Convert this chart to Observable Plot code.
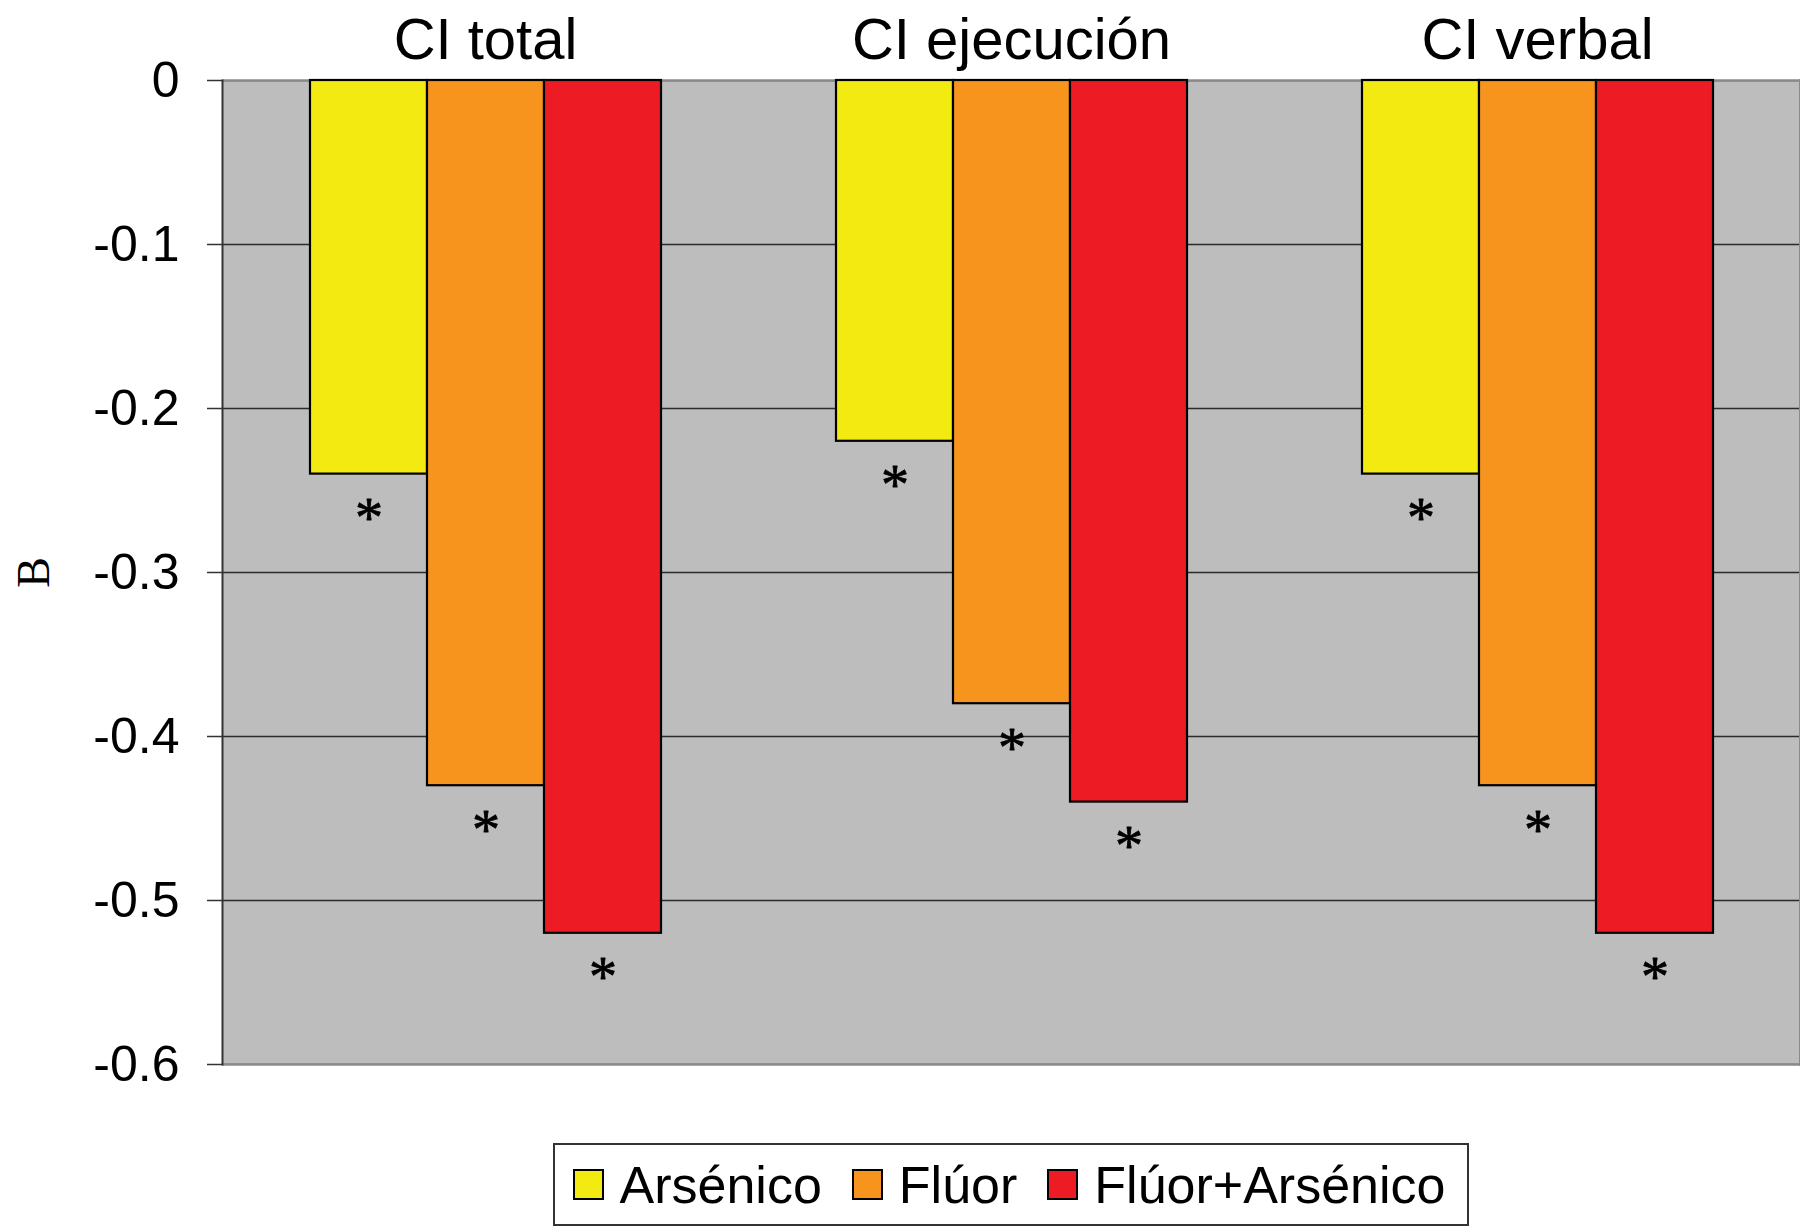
<!DOCTYPE html>
<html>
<head>
<meta charset="utf-8">
<script src="https://cdn.jsdelivr.net/npm/d3@7"></script>
<script src="https://cdn.jsdelivr.net/npm/@observablehq/plot@0.6"></script>
<style>
  html, body { margin: 0; padding: 0; background: #fff; }
  #chart svg { display: block; }
  #legendWrap { display: flex; justify-content: center; padding-left: 222px; margin-top: 43px; }
  #legend { display: flex; align-items: center; border: 2px solid #333; height: 79px; padding: 0 22px 0 18px;
            font-family: "Liberation Sans", Arial, sans-serif; font-size: 52px; color: #000; }
  .item { display: flex; align-items: center; margin-right: 30px; }
  .item:last-child { margin-right: 0; }
  .sw { width: 27px; height: 27px; border: 2px solid #000; margin-right: 16px; }
</style>
</head>
<body>
<div id="chart"></div>
<div id="legendWrap"><div id="legend"></div></div>
<script>
const groups = ["CI total", "CI ejecución", "CI verbal"];
const series = ["Arsénico", "Flúor", "Flúor+Arsénico"];
const arsenico = [-0.24, -0.22, -0.24];
const fluor = [-0.43, -0.38, -0.43];
const fluorArsenico = [-0.52, -0.44, -0.52];
const marks = ["*", "*", "*"];
const colors = ["#F2EA10", "#F7941E", "#ED1C24"];
const yTicks = [0, -0.1, -0.2, -0.3, -0.4, -0.5, -0.6];
const yLabel = "B";

const valuesBySeries = [arsenico, fluor, fluorArsenico];
const data = [];
groups.forEach((g, gi) => {
  series.forEach((s, si) => {
    data.push({group: g, series: s, value: valuesBySeries[si][gi], mark: marks[gi]});
  });
});

const chart = Plot.plot({
  width: 1800,
  height: 1100,
  marginLeft: 222,
  marginRight: 0,
  marginTop: 80,
  marginBottom: 36,
  style: {fontFamily: "Liberation Sans, Arial, sans-serif", background: "#fff", color: "#000"},
  fx: {domain: groups, padding: 0, label: null},
  x: {domain: series, paddingInner: 0, paddingOuter: 0.745, axis: null},
  y: {domain: [-0.6, 0], label: null},
  color: {domain: series, range: colors},
  marks: [
    Plot.frame({fill: "#BDBDBD", stroke: null, insetLeft: -1, insetRight: -1, shapeRendering: "crispEdges"}),
    Plot.gridY(yTicks, {stroke: "#2b2b2b", strokeOpacity: 1, strokeWidth: 1.5}),
    Plot.ruleY([0, -0.6], {stroke: "#8a8a8a", strokeWidth: 2}),
    Plot.frame({anchor: "right", facetAnchor: "right", stroke: "#8a8a8a", strokeWidth: 3}),
    Plot.barY(data, {fx: "group", x: "series", y: "value", fill: "series", stroke: "#000", strokeWidth: 2.2}),
    Plot.text(data, {fx: "group", x: "series", y: "value", text: "mark", dy: 45, fontSize: 56,
                     fontFamily: "Liberation Serif, serif", fill: "#000", stroke: "#000", strokeWidth: 0.8}),
    Plot.frame({anchor: "left", facetAnchor: "left", stroke: "#333", strokeWidth: 2}),
    Plot.axisY(yTicks, {tickSize: 15, tickPadding: 28, fontSize: 50, tickFormat: d => d === 0 ? "0" : String(d),
                        stroke: "#333", strokeWidth: 1.5, label: null}),
    Plot.axisY([], {tickSize: 0, label: yLabel, labelAnchor: "center", labelOffset: 206, labelArrow: "none",
                    fontSize: 46, fontFamily: "Liberation Serif, serif"}),
    Plot.axisFx({anchor: "top", tickSize: 0, tickPadding: 22, fontSize: 58, label: null})
  ]
});
document.getElementById("chart").appendChild(chart);

const legend = document.getElementById("legend");
series.forEach((s, i) => {
  const it = document.createElement("div");
  it.className = "item";
  const sw = document.createElement("div");
  sw.className = "sw";
  sw.style.background = colors[i];
  const t = document.createElement("span");
  t.textContent = s;
  it.appendChild(sw);
  it.appendChild(t);
  legend.appendChild(it);
});
</script>
</body>
</html>
